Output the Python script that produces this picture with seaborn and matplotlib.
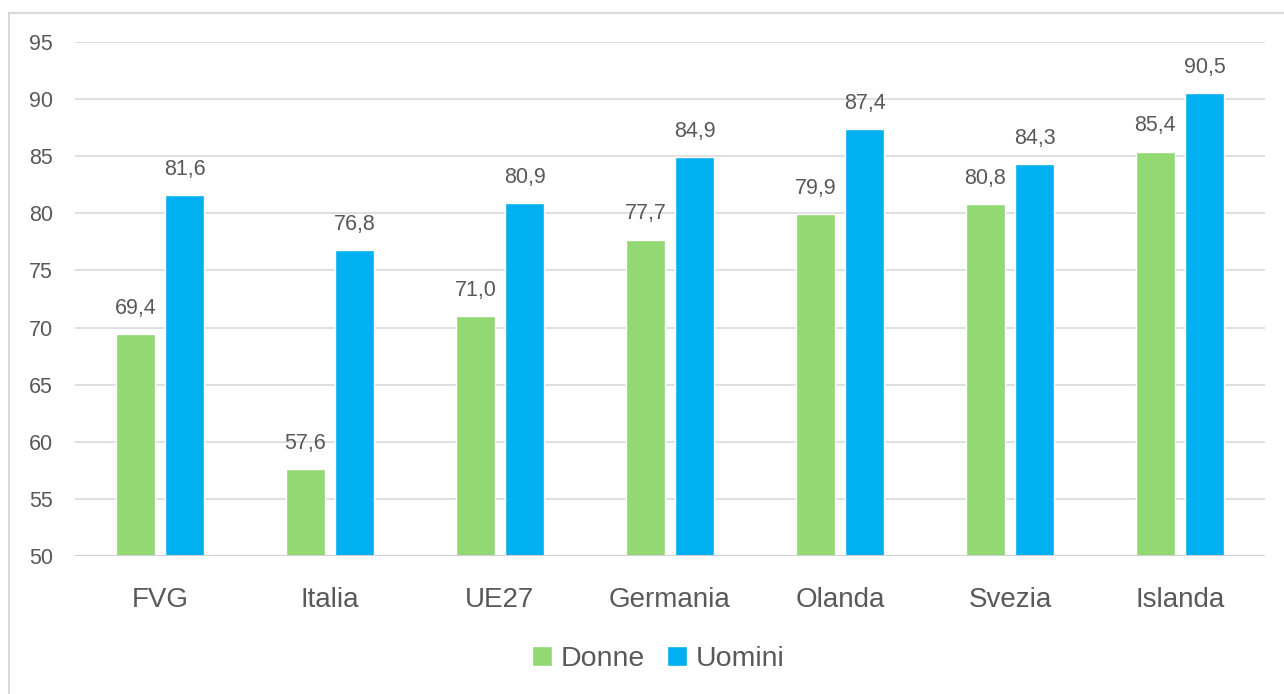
import pandas as pd
import numpy as np
import matplotlib.pyplot as plt
import seaborn as sns
from matplotlib.patches import Rectangle

paesi = ['FVG', 'Italia', 'UE27', 'Germania', 'Olanda', 'Svezia', 'Islanda']
donne = [69.4, 57.6, 71.0, 77.7, 79.9, 80.8, 85.4]
uomini = [81.6, 76.8, 80.9, 84.9, 87.4, 84.3, 90.5]
serie = ['Donne', 'Uomini']
colori = ['#92D873', '#00B0F0']

df = pd.DataFrame({
    'paese': paesi * 2,
    'valore': donne + uomini,
    'sesso': ['Donne'] * len(paesi) + ['Uomini'] * len(paesi),
})

sns.set_style('white')
plt.rcParams['font.family'] = ['Liberation Sans', 'DejaVu Sans']
grigio = '#595959'

fig = plt.figure(figsize=(12.84, 6.94), dpi=100)
ax = fig.add_axes([0.0584, 0.1988, 0.9268, 0.7407])

sns.barplot(df, x='paese', y='valore', hue='sesso', palette=colori,
            width=0.58, gap=0.2, ax=ax, saturation=1)

ax.set_ylim(50, 95)
ax.set_yticks(np.arange(50, 96, 5))
ax.set_xlim(-0.5, len(paesi) - 0.5)
ax.grid(axis='y', color='#D9D9D9', lw=1.2, zorder=0)
ax.set_axisbelow(True)
for s in ax.spines.values():
    s.set_visible(False)
ax.axhline(50, color='#D0D0D0', lw=1.5, zorder=1)
ax.set_xlabel('')
ax.set_ylabel('')
ax.tick_params(axis='y', labelsize=15.5, colors=grigio, pad=16, length=0)
ax.tick_params(axis='x', labelsize=20, colors=grigio, pad=22, length=0)

for cont, vals in zip(ax.containers, [donne, uomini]):
    ax.bar_label(cont, labels=[f'{v:.1f}'.replace('.', ',') for v in vals],
                 padding=11, fontsize=15.5, color=grigio)

ax.legend(loc='center', bbox_to_anchor=(0.49, -0.2), ncol=2, frameon=False,
          fontsize=20.5, labelcolor=grigio, handlelength=0.7, handleheight=0.7,
          handletextpad=0.3, columnspacing=0.8)

fig.patches.append(Rectangle((9 / 1284, -0.1), 1.2, 1 - 13 / 694 + 0.1,
                             transform=fig.transFigure, fill=False,
                             edgecolor='#D9D9D9', lw=1.5))

fig.savefig('out.png', dpi=100)
